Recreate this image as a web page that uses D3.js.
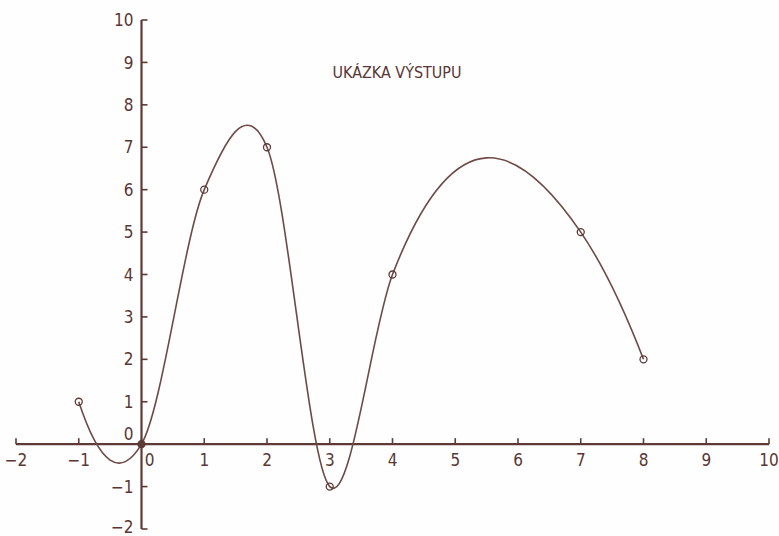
<!DOCTYPE html>
<html>
<head>
<meta charset="utf-8"/>
<title>Ukázka výstupu</title>
<script src="https://cdn.jsdelivr.net/npm/d3@7"></script>
<style>
  body { margin:0; background:#fefefe; }
  text { font-family:"DejaVu Sans Condensed","DejaVu Sans",sans-serif; fill:#5a3632; font-feature-settings:"zero" 1; }
</style>
</head>
<body>
<div id="chart"></div>
<script>
// data
var pointX = [-1, 0, 1, 2, 3, 4, 7, 8];
var pointY = [1, 0, 6, 7, -1, 4, 5, 2];
var xTicks = [-2, -1, 0, 1, 2, 3, 4, 5, 6, 7, 8, 9, 10];
var yTicks = [-2, -1, 0, 1, 2, 3, 4, 5, 6, 7, 8, 9, 10];
var title = "UKÁZKA VÝSTUPU";

var width = 779, height = 536;
var ink = "#5e3a36";

// cubic hermite y(x) with the slope of the parabola through each three points
function curveParabolic(context) {
  var xs, ys;
  return {
    areaStart: function(){}, areaEnd: function(){},
    lineStart: function(){ xs = []; ys = []; },
    point: function(px, py){ xs.push(+px); ys.push(+py); },
    lineEnd: function(){
      var n = xs.length, h = [], s = [], m = [], i;
      if (!n) return;
      context.moveTo(xs[0], ys[0]);
      if (n < 3) { if (n === 2) context.lineTo(xs[1], ys[1]); return; }
      for (i = 0; i < n - 1; i++) { h[i] = xs[i+1] - xs[i]; s[i] = (ys[i+1] - ys[i]) / h[i]; }
      for (i = 1; i < n - 1; i++) m[i] = (h[i] * s[i-1] + h[i-1] * s[i]) / (h[i-1] + h[i]);
      m[0] = s[0] - h[0] * (s[1] - s[0]) / (h[0] + h[1]);
      m[n-1] = s[n-2] + h[n-2] * (s[n-2] - s[n-3]) / (h[n-2] + h[n-3]);
      for (i = 0; i < n - 1; i++) {
        var d = h[i] / 3;
        context.bezierCurveTo(xs[i] + d, ys[i] + m[i] * d,
                              xs[i+1] - d, ys[i+1] - m[i+1] * d,
                              xs[i+1], ys[i+1]);
      }
    }
  };
}

var svg = d3.select("#chart").append("svg")
  .attr("width", width)
  .attr("height", height);

var x = d3.scaleLinear().domain([-2, 10]).range([16, 769]);
var y = d3.scaleLinear().domain([-2, 10]).range([529, 20]);

function fmt(d) { return d < 0 ? "\u2212" + (-d) : String(d); }

// x axis along y=0, ticks pointing up
var xAxis = svg.append("g").attr("transform", "translate(0," + y(0) + ")");
xAxis.append("line")
  .attr("x1", x(-2)).attr("x2", x(10))
  .attr("stroke", ink).attr("stroke-width", 2.2);
xAxis.selectAll(".tk").data(xTicks).enter().append("line")
  .attr("x1", function(d){ return x(d); }).attr("x2", function(d){ return x(d); })
  .attr("y1", 0).attr("y2", -6)
  .attr("stroke", ink).attr("stroke-width", 1.6);
xAxis.selectAll("text").data(xTicks).enter().append("text")
  .attr("x", function(d){ return x(d) + (d === 0 ? 8 : 0); })
  .attr("y", 22)
  .attr("text-anchor", "middle")
  .attr("font-size", 17)
  .text(fmt);

// y axis along x=0, ticks pointing right
var yAxis = svg.append("g").attr("transform", "translate(" + x(0) + ",0)");
yAxis.append("line")
  .attr("y1", y(-2)).attr("y2", y(10))
  .attr("stroke", ink).attr("stroke-width", 2.2);
yAxis.selectAll(".tk").data(yTicks).enter().append("line")
  .attr("y1", function(d){ return y(d); }).attr("y2", function(d){ return y(d); })
  .attr("x1", 0).attr("x2", 6)
  .attr("stroke", ink).attr("stroke-width", 1.6);
yAxis.selectAll("text").data(yTicks).enter().append("text")
  .attr("x", -8)
  .attr("y", function(d){ return y(d) + (d === 0 ? -10 : d === -2 ? -2 : 0); })
  .attr("dy", "0.36em")
  .attr("text-anchor", "end")
  .attr("font-size", 17)
  .text(fmt);

// title
svg.append("text")
  .attr("x", 397).attr("y", 78)
  .attr("text-anchor", "middle")
  .attr("font-size", 16)
  .attr("textLength", 129)
  .attr("lengthAdjust", "spacingAndGlyphs")
  .text(title);

// smooth curve through the points
var pts = d3.zip(pointX, pointY);
var line = d3.line()
  .x(function(d){ return x(d[0]); })
  .y(function(d){ return y(d[1]); })
  .curve(curveParabolic);

svg.append("path")
  .datum(pts)
  .attr("d", line)
  .attr("fill", "none")
  .attr("stroke", "#6e4a45")
  .attr("stroke-width", 1.6);

svg.selectAll(".pt").data(pts).enter().append("circle")
  .attr("cx", function(d){ return x(d[0]); })
  .attr("cy", function(d){ return y(d[1]); })
  .attr("r", 3.5)
  .attr("fill", function(d){ return d[0] === 0 && d[1] === 0 ? ink : "none"; })
  .attr("stroke", ink)
  .attr("stroke-width", 1.3);
</script>
</body>
</html>
